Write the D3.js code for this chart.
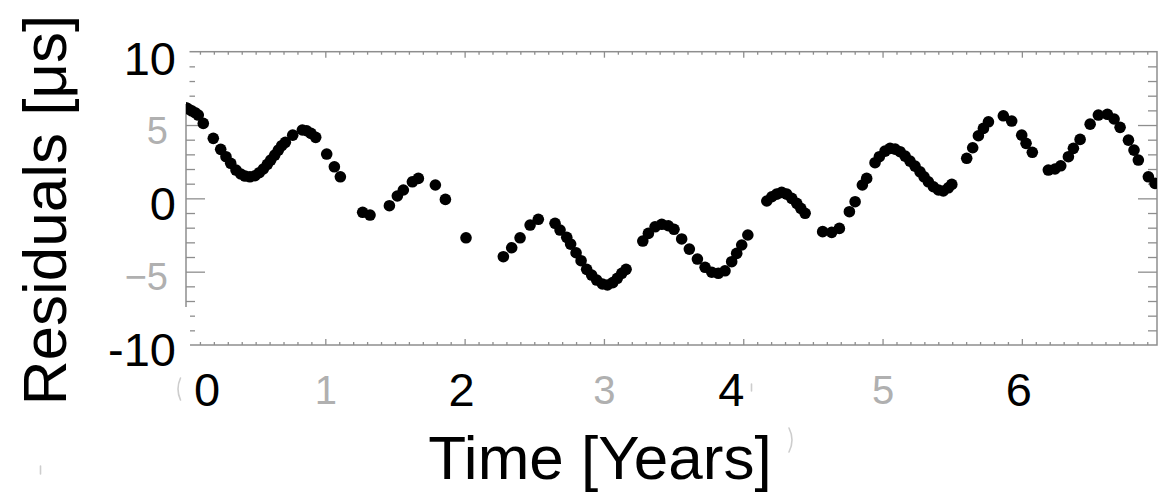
<!DOCTYPE html>
<html>
<head>
<meta charset="utf-8">
<script src="https://cdn.jsdelivr.net/npm/d3@7"></script>
<style>
  html, body { margin: 0; padding: 0; background: #fff; }
  svg { display: block; }
  text { font-family: "Liberation Sans", Arial, Helvetica, sans-serif; }
</style>
</head>
<body>
<svg id="chart" width="1160" height="495"></svg>
<script>
// Timing residuals (microseconds) against time (years)
const years = [
  0.000, 0.017, 0.041, 0.065, 0.088, 0.124, 0.196, 0.249, 0.287, 0.321,
  0.359, 0.393, 0.424, 0.459, 0.495, 0.526, 0.555, 0.584, 0.608, 0.637,
  0.663, 0.687, 0.713, 0.766, 0.835, 0.866, 0.897, 0.931, 1.010, 1.065,
  1.108, 1.268, 1.321, 1.460, 1.517, 1.560, 1.625, 1.668, 1.790, 1.862,
  2.010, 2.278, 2.338, 2.398, 2.470, 2.529, 2.649, 2.685, 2.733, 2.761,
  2.800, 2.836, 2.876, 2.912, 2.948, 2.989, 3.025, 3.063, 3.096, 3.128,
  3.159, 3.279, 3.319, 3.367, 3.415, 3.462, 3.503, 3.558, 3.613, 3.671,
  3.726, 3.774, 3.821, 3.869, 3.917, 3.953, 3.989, 4.033, 4.169, 4.205,
  4.240, 4.276, 4.312, 4.348, 4.384, 4.413, 4.444, 4.570, 4.635, 4.690,
  4.762, 4.803, 4.855, 4.886, 4.946, 4.977, 5.018, 5.054, 5.090, 5.126,
  5.162, 5.197, 5.233, 5.269, 5.298, 5.329, 5.365, 5.401, 5.436, 5.472,
  5.497, 5.604, 5.647, 5.688, 5.724, 5.760, 5.867, 5.927, 5.999, 6.030,
  6.075, 6.190, 6.238, 6.279, 6.334, 6.370, 6.418, 6.490, 6.549, 6.614,
  6.662, 6.705, 6.765, 6.805, 6.836, 6.908, 6.956
];
const residuals = [
  6.18, 6.09, 5.97, 5.84, 5.68, 5.11, 4.09, 3.34, 2.84, 2.39,
  1.93, 1.66, 1.52, 1.47, 1.54, 1.75, 2.00, 2.32, 2.61, 2.95,
  3.29, 3.59, 3.82, 4.31, 4.66, 4.61, 4.43, 4.16, 3.02, 2.15,
  1.47, -0.95, -1.14, -0.50, 0.16, 0.57, 1.13, 1.36, 0.91, -0.07,
  -2.69, -3.98, -3.37, -2.69, -1.82, -1.43, -1.70, -2.16, -2.66, -3.12,
  -3.71, -4.25, -4.84, -5.23, -5.57, -5.84, -5.91, -5.75, -5.45, -5.11,
  -4.84, -2.91, -2.39, -1.94, -1.77, -1.87, -2.11, -2.77, -3.46, -4.14,
  -4.70, -5.04, -5.11, -4.94, -4.32, -3.75, -3.18, -2.50, -0.18, 0.11,
  0.29, 0.41, 0.29, 0.00, -0.34, -0.68, -1.02, -2.27, -2.32, -2.05,
  -0.91, -0.23, 0.91, 1.36, 2.43, 2.84, 3.22, 3.41, 3.36, 3.18,
  2.88, 2.54, 2.20, 1.81, 1.47, 1.13, 0.79, 0.57, 0.50, 0.72,
  0.95, 2.73, 3.45, 4.27, 4.77, 5.22, 5.63, 5.27, 4.31, 3.75,
  3.14, 1.93, 2.00, 2.22, 2.84, 3.41, 4.02, 5.06, 5.68, 5.73,
  5.41, 4.84, 3.97, 3.29, 2.61, 1.47, 1.02
];

// Axis ranges and tick labels
const xDomain = [0, 6.97];
const yDomain = [-10, 10];
const xMajorTicks = [1, 2, 3, 4, 5, 6];
const xLightTicks = [1, 3, 5];
const xLightLabels = ["1", "3", "5"];
const xBoldTicks = [0, 2, 4, 6];
const xBoldLabels = ["0", "2", "4", "6"];
const yLightTicks = [5, -5];
const yLightLabels = ["5", "\u22125"];
const yBoldTicks = [10, 0, -10];
const yBoldLabels = ["10", "0", "-10"];
const xTitle = "Time [Years]";
const yTitle = "Residuals [\u03bcs]";

const svg = d3.select("#chart");
const frame = { left: 186, right: 1157, top: 51.7, bottom: 345 };

const x = d3.scaleLinear().domain(xDomain).range([frame.left, frame.right]);
const y = d3.scaleLinear().domain(yDomain).range([frame.bottom, frame.top]);

const axisColor = "#8e8e8e";
const lightText = "#b0b0b0";

const xMinor = d3.range(1, 70).map(i => i / 10).filter(v => Math.abs(v - Math.round(v)) > 1e-6);
const yMinor = d3.range(-9, 10).filter(v => v % 5 !== 0);
const yMajor = [-5, 0, 5];

function styleAxis(g) {
  g.select(".domain").remove();
  g.selectAll(".tick line").attr("stroke", axisColor).attr("stroke-width", 1.3);
}

// Frame
svg.append("rect")
  .attr("x", frame.left).attr("y", frame.top)
  .attr("width", frame.right - frame.left).attr("height", frame.bottom - frame.top)
  .attr("fill", "none").attr("stroke", axisColor).attr("stroke-width", 1.5);

// Bottom and top ticks (pointing inward)
svg.append("g").attr("transform", `translate(0,${frame.bottom})`)
  .call(d3.axisBottom(x).tickValues(xMinor).tickSize(-3).tickFormat("")).call(styleAxis);
svg.append("g").attr("transform", `translate(0,${frame.bottom})`)
  .call(d3.axisBottom(x).tickValues(xMajorTicks).tickSize(-6).tickFormat("")).call(styleAxis);
svg.append("g").attr("transform", `translate(0,${frame.top})`)
  .call(d3.axisTop(x).tickValues(xMinor).tickSize(-3).tickFormat("")).call(styleAxis);
svg.append("g").attr("transform", `translate(0,${frame.top})`)
  .call(d3.axisTop(x).tickValues(xMajorTicks).tickSize(-6).tickFormat("")).call(styleAxis);

// Left and right ticks (pointing inward)
svg.append("g").attr("transform", `translate(${frame.left},0)`)
  .call(d3.axisLeft(y).tickValues(yMinor).tickSize(-9).tickFormat("")).call(styleAxis);
svg.append("g").attr("transform", `translate(${frame.left},0)`)
  .call(d3.axisLeft(y).tickValues(yMajor).tickSize(-19).tickFormat("")).call(styleAxis);
svg.append("g").attr("transform", `translate(${frame.right},0)`)
  .call(d3.axisRight(y).tickValues(yMinor).tickSize(-9).tickFormat("")).call(styleAxis);
svg.append("g").attr("transform", `translate(${frame.right},0)`)
  .call(d3.axisRight(y).tickValues(yMajor).tickSize(-19).tickFormat("")).call(styleAxis);

// Light tick labels
const xLab = svg.append("g").attr("transform", `translate(0,${frame.bottom})`)
  .call(d3.axisBottom(x).tickValues(xLightTicks).tickSize(0).tickPadding(31)
    .tickFormat((d, i) => xLightLabels[i]));
xLab.select(".domain").remove();
xLab.selectAll("text").attr("font-size", 40).attr("fill", lightText)
  .attr("font-family", "'Liberation Sans', Arial, sans-serif");

const yLab = svg.append("g").attr("transform", `translate(${frame.left - 18},0)`)
  .call(d3.axisLeft(y).tickValues(yLightTicks).tickSize(0).tickPadding(0)
    .tickFormat((d, i) => yLightLabels[i]));
yLab.select(".domain").remove();
yLab.selectAll("text").attr("font-size", 38).attr("fill", lightText).attr("dy", "0.48em")
  .attr("font-family", "'Liberation Sans', Arial, sans-serif");

// Faint light strokes around the lower labels
const faint = svg.append("g").attr("fill", "none").attr("stroke", "#cdcdcd")
  .attr("stroke-width", 1.6).attr("stroke-linecap", "round");
faint.append("path").attr("d", "M180.5,378 Q175.5,389 180.5,400");
faint.append("path").attr("d", "M751.5,384 L751.5,391");
faint.append("path").attr("d", "M789,428 Q795,440 789,452");
faint.append("path").attr("d", "M40.5,466 L40.5,474");

// White panels over the frame corners next to the bold y labels
const panels = svg.append("g").attr("fill", "#fff");
panels.append("rect").attr("x", 95).attr("y", 38).attr("width", frame.left + 3.5 - 95).attr("height", 66);
panels.append("rect").attr("x", 95).attr("y", 307).attr("width", frame.left + 4 - 95).attr("height", 56);

// Bold tick labels
const boldXShift = [21, -3, -12, -3];
svg.append("g").selectAll("text").data(xBoldTicks).join("text")
  .attr("x", (d, i) => x(d) + boldXShift[i])
  .attr("y", 406).attr("text-anchor", "middle").attr("font-size", 47).attr("fill", "#000")
  .text((d, i) => xBoldLabels[i]);

const boldYOffset = [23, 22, 21];
svg.append("g").selectAll("text").data(yBoldTicks).join("text")
  .attr("x", 176).attr("y", (d, i) => y(d) + boldYOffset[i])
  .attr("text-anchor", "end").attr("font-size", 47).attr("fill", "#000")
  .text((d, i) => yBoldLabels[i]);

// Axis titles
svg.append("text").attr("x", 600).attr("y", 479).attr("text-anchor", "middle")
  .attr("font-size", 62).attr("fill", "#000").text(xTitle);
svg.append("text").attr("transform", "translate(66,210) rotate(-90)")
  .attr("text-anchor", "middle").attr("font-size", 62).attr("fill", "#000").text(yTitle);

// Data points, clipped to the frame
svg.append("clipPath").attr("id", "plot-clip").append("rect")
  .attr("x", frame.left).attr("y", frame.top)
  .attr("width", frame.right - frame.left).attr("height", frame.bottom - frame.top);

svg.append("g").attr("clip-path", "url(#plot-clip)")
  .selectAll("circle").data(years).join("circle")
  .attr("cx", d => x(d))
  .attr("cy", (d, i) => y(residuals[i]))
  .attr("r", 5.8)
  .attr("fill", "#000");
</script>
</body>
</html>
